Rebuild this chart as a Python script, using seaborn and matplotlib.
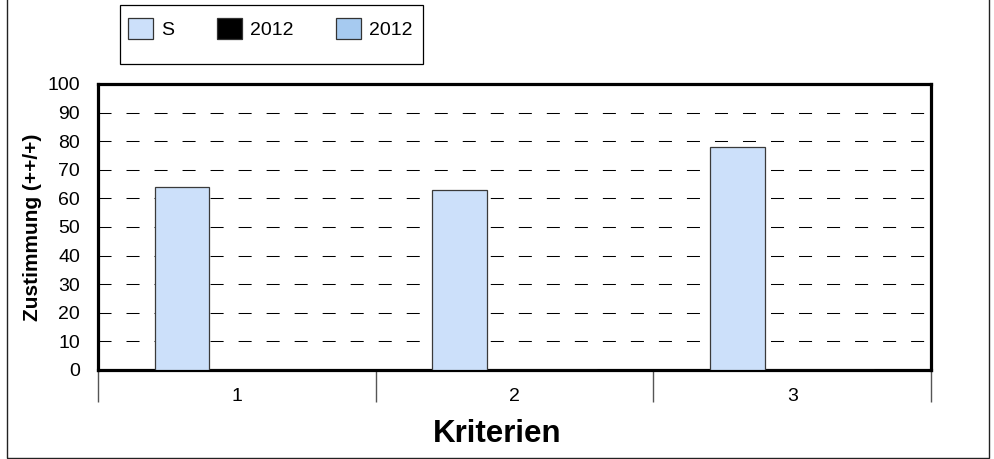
import numpy as np
import pandas as pd
import matplotlib
matplotlib.use("Agg")
import matplotlib.pyplot as plt
from matplotlib.patches import Patch, Rectangle
import seaborn as sns

# data
kriterien = ["1", "2", "3"]
reihen = ["S", "2012", "2012"]          # legend labels (two series share a name)
reihen_keys = ["S", "2012_a", "2012_b"]  # unique keys for seaborn hue
werte_s = [64, 63, 78]
werte_2012_a = [0, 0, 0]
werte_2012_b = [0, 0, 0]
farben = ["#CCE0FA", "#000000", "#A6CAF0"]

df = pd.DataFrame({
    "Kriterium": kriterien * 3,
    "Reihe": np.repeat(reihen_keys, 3),
    "Wert": werte_s + werte_2012_a + werte_2012_b,
})

sns.set_theme(style="white")
plt.rcParams["font.family"] = ["Liberation Sans", "DejaVu Sans"]
plt.rcParams["text.color"] = "black"
plt.rcParams["axes.labelcolor"] = "black"

fig = plt.figure(figsize=(9.95, 4.59), dpi=100)
ax = fig.add_axes([98 / 995, 1 - 370 / 459, (931 - 98) / 995, (370 - 84) / 459])

sns.barplot(data=df, x="Kriterium", y="Wert", hue="Reihe", order=kriterien,
            hue_order=reihen_keys, palette=dict(zip(reihen_keys, farben)),
            saturation=1, width=0.593, edgecolor="#3a3a3a", linewidth=0.9,
            ax=ax, legend=False, zorder=3)

ax.set_ylim(0, 100)
ax.set_xlim(-0.5, 2.5)
ax.set_yticks(range(0, 101, 10))
ax.tick_params(axis="y", length=0, labelsize=14, pad=13, colors="black")

# dashed grid lines
for y in range(10, 100, 10):
    ax.axhline(y, color="black", lw=0.75, linestyle=(0, (12.5, 14.4)), zorder=1)

# category separators below the axis
ax.set_xticks([-0.5, 0.5, 1.5, 2.5], minor=True)
ax.tick_params(axis="x", which="minor", length=23, width=1, color="#555555",
               direction="out", bottom=True)
ax.tick_params(axis="x", which="major", length=0, labelsize=14, pad=13,
               colors="black")

for s in ax.spines.values():
    s.set_visible(True)
    s.set_linewidth(2.3)
    s.set_color("black")

ax.set_xlabel("Kriterien", fontsize=22.5, fontweight="bold")
ax.xaxis.set_label_coords(0.479, -0.172)
ax.set_ylabel("Zustimmung (++/+)", fontsize=15, fontweight="bold")
ax.yaxis.set_label_coords(-0.067, 0.5)

# legend: frame drawn separately, entries placed inside it
fig.patches.append(Rectangle((120 / 995, 1 - 64 / 459), 303 / 995, 59 / 459,
                             transform=fig.transFigure, fill=False,
                             edgecolor="black", linewidth=0.9))
handles = [Patch(facecolor=c, edgecolor="#333333", linewidth=0.9) for c in farben]
leg = fig.legend(handles, reihen, loc="upper left",
                 bbox_to_anchor=(128 / 995, 1 - 18 / 459), ncol=3,
                 fontsize=14, handlelength=1.3, handleheight=1.3,
                 handletextpad=0.4, columnspacing=2.2, borderpad=0,
                 frameon=False, borderaxespad=0)

# outer border of the chart area
fig.patches.append(Rectangle((7 / 995, 1 / 459), (989 - 7) / 995, 1.2,
                             transform=fig.transFigure, fill=False,
                             edgecolor="#222222", linewidth=1.0))

fig.savefig("out.png", dpi=100)
